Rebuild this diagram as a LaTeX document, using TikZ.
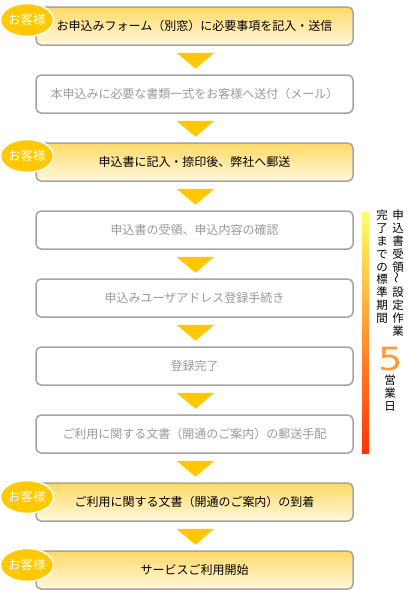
\documentclass[tikz,border=0pt]{standalone}
\usepackage{fontspec}
\setmainfont{Noto Sans CJK JP}
\newfontfamily\digitfont{DejaVu Sans}
\usepackage{tikz}
\usetikzlibrary{shapes.geometric}
\definecolor{boxtop}{HTML}{FFD966}
\definecolor{boxbot}{HTML}{FFF8DC}
\definecolor{rimc}{HTML}{A5A5A5}
\definecolor{gold}{HTML}{FFC800}
\definecolor{txtg}{HTML}{9A9A9A}
\definecolor{barhi}{HTML}{FFFF66}
\definecolor{barlo}{HTML}{FF3300}
\definecolor{fivec}{HTML}{FF9933}

\begin{document}
\begin{tikzpicture}[x=1pt, y=-1pt,
  font=\fontsize{12}{14}\selectfont,
  cu/.style={rectangle, draw=rimc, line width=1.5pt, rounded corners=5pt,
             top color=boxtop, bottom color=boxbot,
             minimum width=317pt, minimum height=38pt, inner sep=0pt},
  op/.style={rectangle, draw=rimc, line width=1.5pt, rounded corners=5pt,
             fill=white, text=txtg,
             minimum width=317pt, minimum height=38pt, inner sep=0pt},
  bd/.style={ellipse, fill=gold, draw=white, line width=1.5pt, text=white,
             minimum width=52pt, minimum height=33pt, inner sep=0pt,
             font=\fontsize{12.5}{14}\selectfont},
  ar/.style={fill=gold},
  vt/.style={anchor=north, align=center, inner sep=0pt,
             font=\fontsize{11.5}{12.8}\selectfont}]
\useasboundingbox (0,0) rectangle (410,590);
\node[cu] (s1) at (194.5,26)  {お申込みフォーム（別窓）に必要事項を記入・送信};
\node[op] (s2) at (194.5,94)  {本申込みに必要な書類一式をお客様へ送付（メール）};
\node[cu] (s3) at (194.5,162) {申込書に記入・捺印後、弊社へ郵送};
\node[op] (s4) at (194.5,230) {申込書の受領、申込内容の確認};
\node[op] (s5) at (194.5,298) {申込みユーザアドレス登録手続き};
\node[op] (s6) at (194.5,366) {登録完了};
\node[op] (s7) at (194.5,434) {ご利用に関する文書（開通のご案内）の郵送手配};
\node[cu] (s8) at (194.5,502) {ご利用に関する文書（開通のご案内）の到着};
\node[cu] (s9) at (194.5,570) {サービスご利用開始};
% customer badges
\node[bd] (k1) at (27,20)  {お客様};
\node[bd] (k3) at (27,156) {お客様};
\node[bd] (k8) at (27,497) {お客様};
\node[bd] (k9) at (27,565) {お客様};
% arrows between steps
\fill[ar] ([xshift=-18pt,yshift=-7pt]s1.south) -- ([xshift=20pt,yshift=-7pt]s1.south) -- ([xshift=1pt,yshift=-23pt]s1.south) -- cycle;
\fill[ar] ([xshift=-18pt,yshift=-7pt]s2.south) -- ([xshift=20pt,yshift=-7pt]s2.south) -- ([xshift=1pt,yshift=-23pt]s2.south) -- cycle;
\fill[ar] ([xshift=-18pt,yshift=-7pt]s3.south) -- ([xshift=20pt,yshift=-7pt]s3.south) -- ([xshift=1pt,yshift=-23pt]s3.south) -- cycle;
\fill[ar] ([xshift=-18pt,yshift=-7pt]s4.south) -- ([xshift=20pt,yshift=-7pt]s4.south) -- ([xshift=1pt,yshift=-23pt]s4.south) -- cycle;
\fill[ar] ([xshift=-18pt,yshift=-7pt]s5.south) -- ([xshift=20pt,yshift=-7pt]s5.south) -- ([xshift=1pt,yshift=-23pt]s5.south) -- cycle;
\fill[ar] ([xshift=-18pt,yshift=-7pt]s6.south) -- ([xshift=20pt,yshift=-7pt]s6.south) -- ([xshift=1pt,yshift=-23pt]s6.south) -- cycle;
\fill[ar] ([xshift=-18pt,yshift=-7pt]s7.south) -- ([xshift=20pt,yshift=-7pt]s7.south) -- ([xshift=1pt,yshift=-23pt]s7.south) -- cycle;
\fill[ar] ([xshift=-18pt,yshift=-7pt]s8.south) -- ([xshift=20pt,yshift=-7pt]s8.south) -- ([xshift=1pt,yshift=-23pt]s8.south) -- cycle;
% standard period bar
\shade[top color=barhi, bottom color=barlo] (362,212) rectangle (369,453);
\node[vt] (v1) at (398,210) {申\\込\\書\\受\\領\\\rotatebox{90}{～}\\設\\定\\作\\業};
\node[vt] (v2) at (382,210) {完\\了\\ま\\で\\の\\標\\準\\期\\間};
\node[text=fivec, font=\digitfont\fontsize{32}{32}\selectfont, inner sep=0pt,
      anchor=base, xscale=1.2] (d5) at (390.5,370) {5};
\node[vt] (v3) at (390,375) {営\\業\\日};
\end{tikzpicture}
\end{document}
